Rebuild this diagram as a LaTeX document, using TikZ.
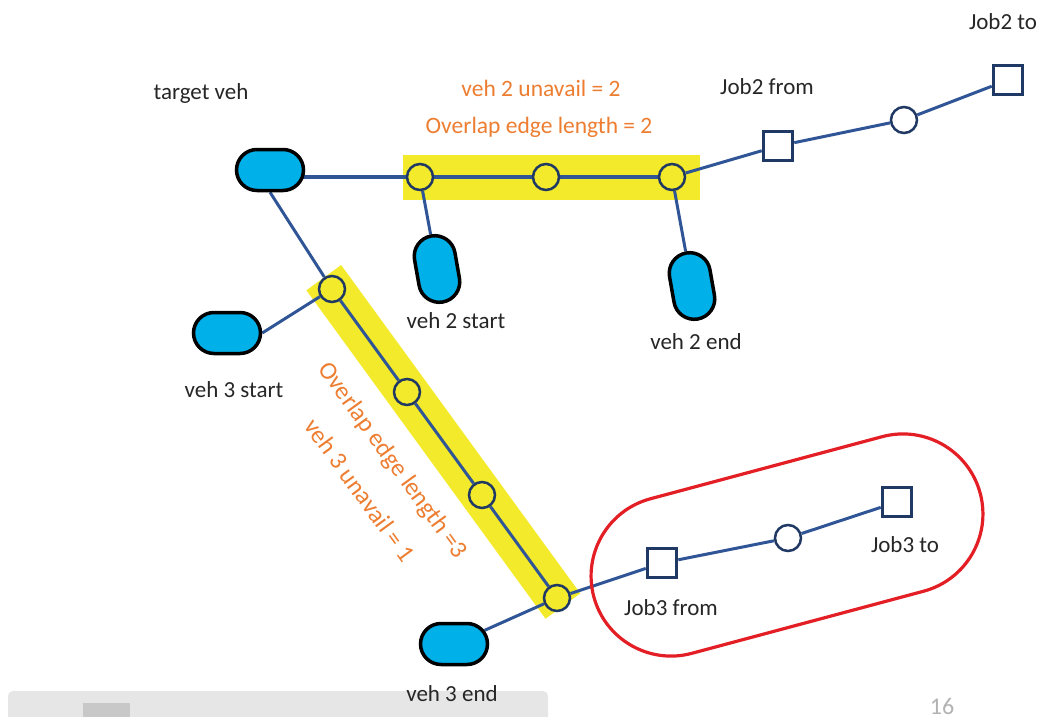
\documentclass[tikz,border=0pt]{standalone}
\usepackage{fontspec}
\setmainfont{Carlito}
\usetikzlibrary{shapes.misc,backgrounds,calc}

\definecolor{pillblue}{HTML}{00B0E8}
\definecolor{edgeblue}{HTML}{2F5597}
\definecolor{navy}{HTML}{1F3864}
\definecolor{hilite}{HTML}{F2EA2A}
\definecolor{notecol}{HTML}{ED7D31}
\definecolor{ringred}{HTML}{E31E24}
\definecolor{ink}{HTML}{262626}
\definecolor{barbg}{HTML}{E6E6E6}
\definecolor{barkey}{HTML}{C8C8C8}

\begin{document}
\begin{tikzpicture}[x=1pt,y=-1pt,
  pill/.style={rounded rectangle, draw=black, line width=3.5pt, fill=pillblue,
               minimum width=67pt, minimum height=41pt, inner sep=0pt},
  stopnode/.style={circle, draw=navy, line width=2.5pt, minimum size=26pt, inner sep=0pt},
  onpath/.style={stopnode, fill=hilite},
  waypoint/.style={stopnode, fill=white},
  jobbox/.style={rectangle, draw=navy, line width=3.5pt, fill=white,
                 minimum size=29pt, inner sep=0pt},
  lbl/.style={text=ink, font=\fontsize{23}{27}\selectfont, inner sep=0pt},
  note/.style={text=notecol, font=\fontsize{23.5}{27}\selectfont, inner sep=0pt},
  slantnote/.style={text=notecol, font=\fontsize{25}{29}\selectfont, inner sep=0pt, rotate=-54},
  edgeline/.style={draw=edgeblue, line width=3pt},
  mainline/.style={draw=edgeblue, line width=4pt},
  ring/.style={rounded rectangle, draw=ringred, line width=3.2pt, inner sep=0pt},
]
\useasboundingbox (0,0) rectangle (1045,717);

% viewer bar along the bottom edge
\fill[barbg, rounded corners=5pt] (8,717) -- (8,691) -- (548,691) [sharp corners] -- (548,717) -- cycle;
\fill[barkey] (83,703) rectangle (130,717);

% vehicles
\node[pill] (tv)  at (270,170) {};
\node[pill, rotate=100] (v2s) at (437,269) {};
\node[pill, rotate=100] (v2e) at (692,286) {};
\node[pill] (v3s) at (227,333) {};
\node[pill] (v3e) at (454,644) {};

% stops on the shared edges
\node[onpath] (c1) at (420,177) {};
\node[onpath] (c2) at (546,177) {};
\node[onpath] (c3) at (672,177) {};
\node[onpath] (d1) at (332,289) {};
\node[onpath] (d2) at (407,392) {};
\node[onpath] (d3) at (482,495) {};
\node[onpath] (d4) at (557,598) {};

% jobs
\node[jobbox]   (j2f) at (778,146) {};
\node[waypoint] (w2)  at (904,120) {};
\node[jobbox]   (j2t) at (1008,80) {};
\node[jobbox]   (j3f) at (662,563) {};
\node[waypoint] (w3)  at (788,538) {};
\node[jobbox]   (j3t) at (897,502) {};

% job 3 enclosure
\node[ring, minimum width=400pt, minimum height=160pt, rotate=15] (grp) at (787,545) {};

% labels
\node[lbl] (ltv)  at (201,93)  {target veh};
\node[lbl] (lv2s) at (456,321) {veh 2 start};
\node[lbl] (lv2e) at (696,342) {veh 2 end};
\node[lbl] (lv3s) at (234,390) {veh 3 start};
\node[lbl] (lv3e) at (452,694) {veh 3 end};
\node[lbl] (lj2f) at (767,87)  {Job2 from};
\node[lbl] (lj2t) at (1003,22) {Job2 to};
\node[lbl] (lj3f) at (671,608) {Job3 from};
\node[lbl] (lj3t) at (905,545) {Job3 to};
\node[note] (n2a) at (541,88)  {veh 2 unavail = 2};
\node[note] (n2b) at (539,127) {Overlap edge length = 2};
\node[slantnote] (n3a) at (392,461) {Overlap edge length =3};
\node[slantnote] (n3b) at (360,490) {veh 3 unavail = 1};
\node[text=gray!60, font=\fontsize{24}{28}\selectfont, inner sep=0pt] (pg) at (942,706) {16};

\begin{scope}[on background layer]
  % highlighted shared edges
  \fill[hilite] ($(c1)+(-17,-22)$) rectangle ($(c3)+(28,23)$);
  \draw[hilite, line width=43pt] ($(d1)!-14pt!(d4)$) -- ($(d4)!-10pt!(d1)$);
  % route of the target vehicle
  \draw[mainline] (tv |- c1) -- (c1) -- (c2) -- (c3);
  \draw[edgeline] (tv.south) -- (d1) -- (d2) -- (d3) -- (d4);
  % other vehicles
  \draw[edgeline] (c1) -- (v2s);
  \draw[edgeline] (c3) -- (v2e);
  \draw[edgeline] (v3s.east) -- (d1);
  \draw[edgeline] (v3e) -- (d4);
  % jobs
  \draw[edgeline] (c3) -- (j2f) -- (w2) -- (j2t);
  \draw[edgeline] (d4) -- (j3f) -- (w3) -- (j3t);
\end{scope}
\end{tikzpicture}
\end{document}
